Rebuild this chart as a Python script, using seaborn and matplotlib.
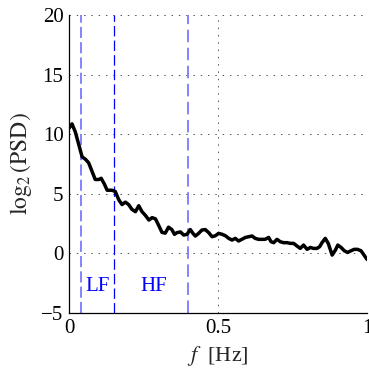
import numpy as np
import pandas as pd
import matplotlib
matplotlib.use("Agg")
import matplotlib.pyplot as plt
import seaborn as sns
from matplotlib.ticker import MultipleLocator, FixedLocator

freq = [0.0, 0.01, 0.021, 0.032, 0.044, 0.055, 0.066, 0.077, 0.088, 0.1, 0.108, 0.119,
        0.128, 0.144, 0.155, 0.167, 0.178, 0.189, 0.2, 0.211, 0.223, 0.234, 0.245, 0.256,
        0.268, 0.279, 0.29, 0.3, 0.312, 0.323, 0.334, 0.345, 0.354, 0.362, 0.374, 0.385,
        0.396, 0.407, 0.416, 0.424, 0.435, 0.446, 0.457, 0.469, 0.48, 0.491, 0.502, 0.514,
        0.525, 0.536, 0.547, 0.558, 0.569, 0.58, 0.592, 0.603, 0.614, 0.625, 0.636, 0.647,
        0.658, 0.67, 0.678, 0.687, 0.698, 0.709, 0.72, 0.732, 0.743, 0.754, 0.765, 0.776,
        0.787, 0.799, 0.81, 0.82, 0.832, 0.841, 0.849, 0.86, 0.87, 0.883, 0.894, 0.902,
        0.913, 0.924, 0.935, 0.946, 0.957, 0.968, 0.98, 0.99, 1.0]
log2_psd = [10.5, 10.87, 10.2, 9.2, 8.1, 7.9, 7.6, 6.9, 6.2, 6.2, 6.3, 5.8,
            5.3, 5.3, 5.2, 4.5, 4.1, 4.3, 4.1, 3.7, 3.5, 4.0, 3.5, 3.2,
            2.8, 3.0, 2.9, 2.4, 1.76, 1.7, 2.2, 2.0, 1.6, 1.74, 1.8, 1.54,
            1.6, 2.0, 1.68, 1.46, 1.68, 1.96, 2.0, 1.74, 1.4, 1.48, 1.68, 1.6,
            1.48, 1.26, 1.12, 1.26, 1.04, 1.18, 1.34, 1.4, 1.46, 1.26, 1.18, 1.18,
            1.18, 1.34, 0.98, 0.9, 1.18, 0.98, 0.9, 0.9, 0.84, 0.84, 0.62, 0.42,
            0.7, 0.34, 0.5, 0.42, 0.42, 0.56, 0.9, 1.26, 0.84, -0.14, 0.28, 0.7,
            0.5, 0.22, 0.08, 0.22, 0.34, 0.34, 0.22, -0.14, -0.5]

band_edges = [0.04, 0.15, 0.4]
band_labels = ["LF", "HF"]
band_label_x = [0.096, 0.284]
xticks = [0, 0.5, 1]
xticklabels = ["0", "0.5", "1"]
yticks = [-5, 0, 5, 10, 15, 20]

sns.set_style("white")
plt.rcParams["font.family"] = ["Liberation Serif", "DejaVu Serif"]
plt.rcParams["mathtext.fontset"] = "stix"
plt.rcParams["axes.unicode_minus"] = True

fig = plt.figure(figsize=(3.69, 3.68), dpi=100)
ax = fig.add_axes([69 / 369, 55 / 368, 298 / 369, 298 / 368])

df = pd.DataFrame({"f": freq, "p": log2_psd})

# grid
for gx in xticks:
    ax.axvline(gx, color="#555555", lw=0.7, ls=(0, (1.5, 6)), zorder=0)
for gy in yticks:
    ax.axhline(gy, color="#555555", lw=0.7, ls=(0, (1.5, 6)), zorder=0)

# band edges
edge_colors = ["#7a7aff", "#0000ff", "#7a7aff"]
edge_lw = [1.3, 0.9, 1.3]
edge_dash = [(0, (8 / 1.3, 3.0 / 1.3)), (0, (7.5 / 0.9, 3.0 / 0.9)), (0, (9 / 1.3, 4 / 1.3))]
for e, c, lw, ds in zip(band_edges, edge_colors, edge_lw, edge_dash):
    ax.axvline(e, color=c, lw=lw, ls=ds, zorder=1)

for lab, lx in zip(band_labels, band_label_x):
    ax.text(lx, -2.75, lab, color="#0000ff", ha="center", va="center", fontsize=15)

sns.lineplot(data=df, x="f", y="p", ax=ax, color="black", lw=2.5, zorder=3)

ax.set_xlim(0, 1)
ax.set_ylim(-5, 20)
ax.xaxis.set_major_locator(FixedLocator(xticks))
ax.set_xticklabels(xticklabels)
ax.yaxis.set_major_locator(FixedLocator(yticks))
ax.xaxis.set_minor_locator(MultipleLocator(0.025))
ax.yaxis.set_minor_locator(MultipleLocator(1))
ax.tick_params(axis="both", which="major", direction="in", length=4, width=0.7,
               labelsize=15, pad=4, colors="black")
ax.tick_params(axis="both", which="minor", direction="in", length=2, width=0.5,
               color="#444444")
ax.tick_params(top=False, right=False)
for s in ["top", "right"]:
    ax.spines[s].set_visible(False)
for s in ["left", "bottom"]:
    ax.spines[s].set_color("black")
    ax.spines[s].set_linewidth(0.9)

ax.set_xlabel(r"$f$  [Hz]", fontsize=16, labelpad=5)
ax.set_ylabel(r"$\log_2(\mathrm{PSD})$", fontsize=17, labelpad=5)

fig.savefig("out.png", dpi=100)
